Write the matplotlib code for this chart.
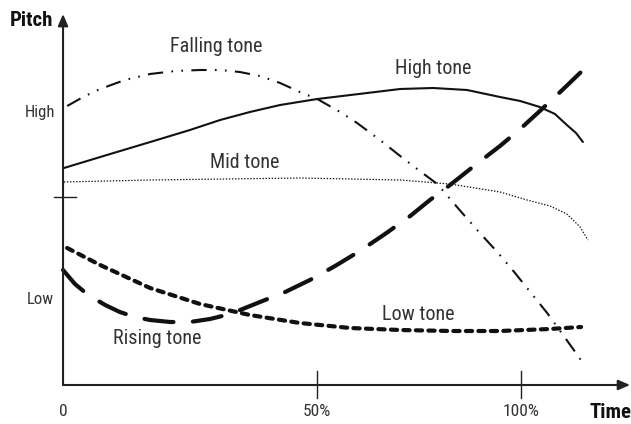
import matplotlib
matplotlib.use("Agg")
import matplotlib.pyplot as plt
from matplotlib import font_manager

# ---------------- data (time in %, pitch in arbitrary units) ----------------
high_t = [0.2, 10.3, 20.5, 27.7, 34.3, 40.8, 47.4, 55.5, 66.4, 73.6, 80.8, 88.2,
          95.4, 99.8, 104.1, 107.4, 110.0, 112.0, 113.5]
high_p = [217, 231, 245, 255, 265, 273, 280, 286, 292, 296, 297, 295,
          288, 284, 278, 271, 260, 252, 243]

fall_t = [0.9, 4.8, 8.1, 13.5, 19.0, 24.5, 29.9, 34.3, 38.6, 43.0, 47.4, 51.7, 55.5,
          60.5, 64.2, 69.2, 73.6, 77.9, 81.7, 86.2, 90.6, 94.8, 98.5, 102.0, 105.7,
          109.8, 114.0]
fall_p = [279, 289, 296, 305, 311, 314, 315, 315, 313, 309, 302, 293, 286,
          273, 262, 245, 229, 214, 201, 177, 154, 133, 113, 93, 72,
          46, 19]

mid_t = [0.2, 19.0, 51.7, 73.6, 84.5, 95.4, 101.3, 106.3, 110.0, 112.9, 114.6]
mid_p = [203, 205, 207, 205, 201, 193, 185, 179, 171, 158, 145]

low_t = [0.9, 8.1, 19.0, 29.9, 40.8, 51.7, 62.7, 73.6, 84.5, 95.4, 106.3, 113.1]
low_p = [137, 120, 97, 81, 70, 62, 57, 55, 54, 54, 56, 58]

rise_t = [0, 2.6, 5.5, 9.2, 12.4, 15.7, 19.0, 23.4, 27.7, 32.1, 36.5, 43.0, 48.5,
          53.9, 59.4, 64.8, 70.3, 75.8, 80.1, 84.5, 90.0, 95.4, 99.8, 104.1, 109.0, 114.0]
rise_p = [115, 101, 90, 80, 73, 68, 65, 63, 63, 66, 71, 83, 93,
          105, 119, 134, 151, 169, 185, 200, 220, 239, 256, 274, 295, 317]

xtick_pos = [0, 55.4, 100]
xtick_labels = ["0", "50%", "100%"]
ylabel_pos = [273, 85]
ylabel_text = ["High", "Low"]
ytick_mark = 188

tone_names = ["Falling tone", "High tone", "Mid tone", "Low tone", "Rising tone"]
tone_label_t = [33.4, 80.8, 39.7, 77.5, 20.5]
tone_label_p = [338, 317, 223, 71, 47]

# ---------------- font selection ----------------
avail = {f.name for f in font_manager.fontManager.ttflist}
cands = ["Liberation Sans Narrow", "DejaVu Sans Condensed", "Roboto Condensed",
         "Open Sans Condensed", "Noto Sans Display"]
fam = next((c for c in cands if c in avail), "DejaVu Sans")
plt.rcParams["font.family"] = [fam, "DejaVu Sans"]
plt.rcParams["lines.scale_dashes"] = False

fig = plt.figure(figsize=(6.31, 4.24), dpi=100)
ax = fig.add_axes([0, 0, 1, 1])
ax.set_xlim(-13.76, 124.0)
ax.set_ylim(-39, 385)
ax.axis("off")

lc = "#111111"
tc = "#333333"

ax.plot(high_t, high_p, color=lc, lw=1.5, solid_capstyle="round", solid_joinstyle="round")
ax.plot(fall_t, fall_p, color=lc, lw=1.5, linestyle=(0, (11, 6, 1.2, 6, 1.2, 6)),
        dash_capstyle="butt")
ax.plot(mid_t, mid_p, color=lc, lw=0.9, linestyle=(0, (1.0, 1.2)))
ax.plot(low_t, low_p, color=lc, lw=3.0, linestyle=(0, (4.5, 4.5)), dash_capstyle="round")
ax.plot(rise_t, rise_p, color=lc, lw=3.0, linestyle=(0, (21, 14)), dash_capstyle="round")

# axes with arrows
ax.annotate("", xy=(123.8, 0), xytext=(0, 0), annotation_clip=False,
            arrowprops=dict(arrowstyle="-|>,head_length=0.7,head_width=0.3",
                            lw=1.5, color="#222222", shrinkA=0, shrinkB=0))
ax.annotate("", xy=(0, 371), xytext=(0, 0), annotation_clip=False,
            arrowprops=dict(arrowstyle="-|>,head_length=0.7,head_width=0.3",
                            lw=1.5, color="#222222", shrinkA=0, shrinkB=0))

# ticks
for xp in xtick_pos[1:]:
    ax.plot([xp, xp], [-13, 14], color="#222222", lw=1.0)
ax.plot([-2.0, 2.8], [ytick_mark, ytick_mark], color="#222222", lw=1.0)

for xp, lab in zip(xtick_pos, xtick_labels):
    ax.text(xp, -26, lab, ha="center", va="center", fontsize=12.5, color=tc)
for yp, lab in zip(ylabel_pos, ylabel_text):
    ax.text(-5.0, yp, lab, ha="center", va="center", fontsize=12, color=tc)

for name, t, p in zip(tone_names, tone_label_t, tone_label_p):
    ax.text(t, p, name, ha="center", va="center", fontsize=14.5, color=tc)

ax.text(-6.8, 365, "Pitch", ha="center", va="center", fontsize=15, fontweight="bold", color="#111111")
ax.text(119.5, -27, "Time", ha="center", va="center", fontsize=15, fontweight="bold", color="#111111")

fig.savefig("out.png", dpi=100)
